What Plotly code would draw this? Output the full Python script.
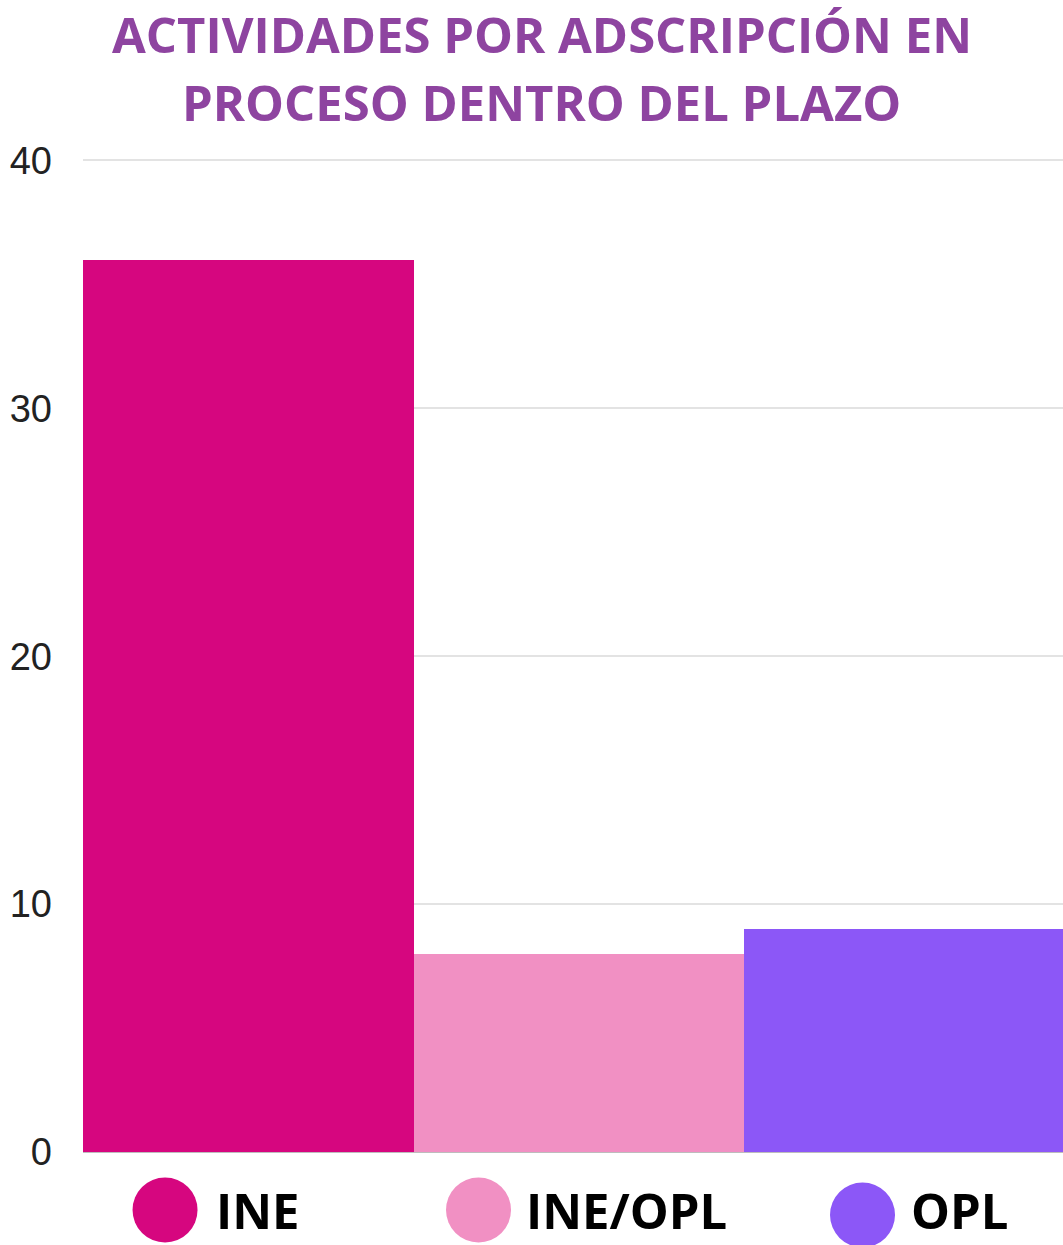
import plotly.graph_objects as go

categories = ["INE", "INE/OPL", "OPL"]
values = [36, 8, 9]
colors = ["#D6067F", "#F190C3", "#8C57F7"]
y_ticks = [0, 10, 20, 30, 40]

title_lines = ["ACTIVIDADES POR ADSCRIPCIÓN EN", "PROCESO DENTRO DEL PLAZO"]

fig = go.Figure()
for c, v, col in zip(categories, values, colors):
    fig.add_trace(go.Bar(x=[c], y=[v], marker=dict(color=col, line=dict(width=0)),
                         name=c, showlegend=False, hoverinfo="x+y"))

shapes = []
annotations = []

# title as two annotation lines
for line, ty in zip(title_lines, [1.1247, 1.0563]):
    annotations.append(dict(text="<b>%s</b>" % line, xref="paper", yref="paper",
                            x=0.4623, y=ty, xanchor="center", yanchor="middle",
                            showarrow=False,
                            font=dict(family="Open Sans", size=49, color="#8E44A0")))

# custom legend (large circles + bold labels)
legend_circle_x = [0.0827, 0.3987, 0.7858]
legend_text_x = [0.1324, 0.4446, 0.8328]
legend_y = [-0.0583, -0.0583, -0.0633]
for c, col, cx, tx, ly in zip(categories, colors, legend_circle_x, legend_text_x, legend_y):
    shapes.append(dict(type="circle", xref="paper", yref="paper",
                       xsizemode="pixel", ysizemode="pixel",
                       xanchor=cx, yanchor=ly, x0=-32.5, x1=32.5, y0=-32.5, y1=32.5,
                       fillcolor=col, line=dict(width=0)))
    annotations.append(dict(text="<b>%s</b>" % c, xref="paper", yref="paper",
                            x=tx, y=-0.0583, xanchor="left", yanchor="middle", showarrow=False,
                            font=dict(family="Open Sans", size=49, color="#000000")))

fig.update_layout(
    width=1075, height=1245,
    margin=dict(l=83, r=0, t=157.5, b=93, pad=0),
    paper_bgcolor="white", plot_bgcolor="white",
    bargap=0,
    xaxis=dict(showticklabels=False, showgrid=False, zeroline=False, showline=False,
               ticks=""),
    yaxis=dict(range=[0, 40.1], tickvals=y_ticks, showgrid=True, gridcolor="#E3E3E3",
               gridwidth=2, zeroline=True, zerolinecolor="#BDBDBD", zerolinewidth=2,
               showline=False, ticks="", ticklabelstandoff=30,
               tickfont=dict(family="Liberation Sans, Arial", size=38, color="#222222")),
    shapes=shapes, annotations=annotations,
    showlegend=False,
)

fig.write_html("out.html", config={"responsive": False, "displayModeBar": False},
               post_script="document.body.style.margin='0';document.body.style.overflow='hidden';")
